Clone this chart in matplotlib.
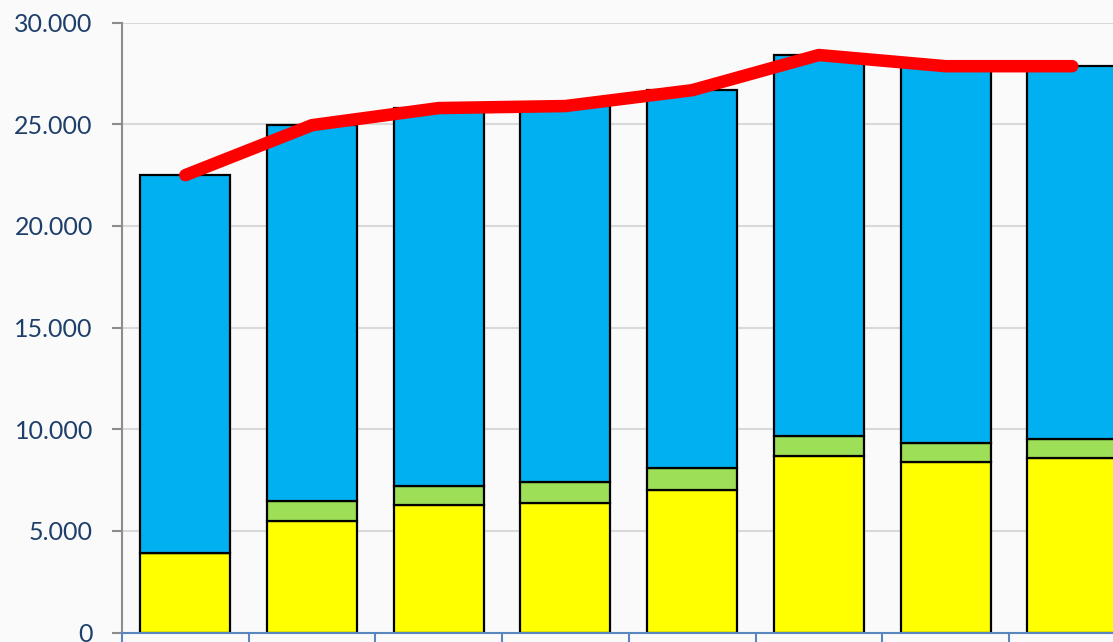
import matplotlib
matplotlib.use("Agg")
import matplotlib.pyplot as plt
import numpy as np
from matplotlib.ticker import FuncFormatter, FixedLocator

categories = ["1", "2", "3", "4", "5", "6", "7", "8"]
yellow = [3930, 5500, 6260, 6380, 7010, 8680, 8370, 8570]
green = [0, 970, 950, 1010, 1070, 1000, 950, 930]
blue = [18570, 18490, 18590, 18510, 18600, 18730, 18540, 18360]
total = [22500, 24960, 25800, 25900, 26680, 28410, 27860, 27860]
yticks = [0, 5000, 10000, 15000, 20000, 25000, 30000]

W, H = 1113, 642
fig = plt.figure(figsize=(W / 100, H / 100), dpi=100)
fig.patch.set_facecolor("#fafafa")
left, right, bottom, top = 122, 1113, 632.5, 22.7
ax = fig.add_axes([left / W, (H - bottom) / H, (right - left) / W, (bottom - top) / H])
ax.set_facecolor("#fafafa")

x = np.arange(len(categories))
bw = 0.71
ax.bar(x, yellow, bw, color="#ffff00", edgecolor="black", linewidth=1.6, zorder=3)
ax.bar(x, green, bw, bottom=yellow, color="#9ddf56", edgecolor="black", linewidth=1.6, zorder=3)
b2 = np.array(yellow) + np.array(green)
ax.bar(x, blue, bw, bottom=b2, color="#00b0f0", edgecolor="black", linewidth=1.6, zorder=3)
ax.plot(x, total, color="#ff0000", linewidth=9, solid_capstyle="round", solid_joinstyle="round", zorder=5)

ax.set_ylim(0, 30000)
cat_w = 126.7
ax.set_xlim(-0.5, -0.5 + (right - left) / cat_w)

ax.set_yticks(yticks)
ax.yaxis.set_major_formatter(FuncFormatter(lambda v, p: "0" if v == 0 else f"{int(v):,}".replace(",", ".")))
ax.grid(axis="y", color="#d9d9d9", linewidth=1.5, zorder=0)
ax.tick_params(axis="y", direction="out", length=7, width=1.5, color="#8c8c8c",
               labelsize=18, labelcolor="#1f3f6b", pad=14)
for lab in ax.get_yticklabels():
    lab.set_fontfamily(["Lato", "DejaVu Sans"])

ax.xaxis.set_major_locator(FixedLocator([]))
ax.xaxis.set_minor_locator(FixedLocator(np.arange(-0.5, 8.5, 1.0)))
ax.tick_params(axis="x", which="minor", direction="out", length=10, width=1.5, color="#5a86c0")
ax.tick_params(axis="x", which="major", length=0, labelbottom=False)

for s in ["top", "right"]:
    ax.spines[s].set_visible(False)
ax.spines["left"].set_color("#8c8c8c")
ax.spines["left"].set_linewidth(1.5)
ax.spines["bottom"].set_color("#5a86c0")
ax.spines["bottom"].set_linewidth(1.5)
ax.spines["bottom"].set_zorder(6)

fig.savefig("out.png", dpi=100, facecolor=fig.get_facecolor())
